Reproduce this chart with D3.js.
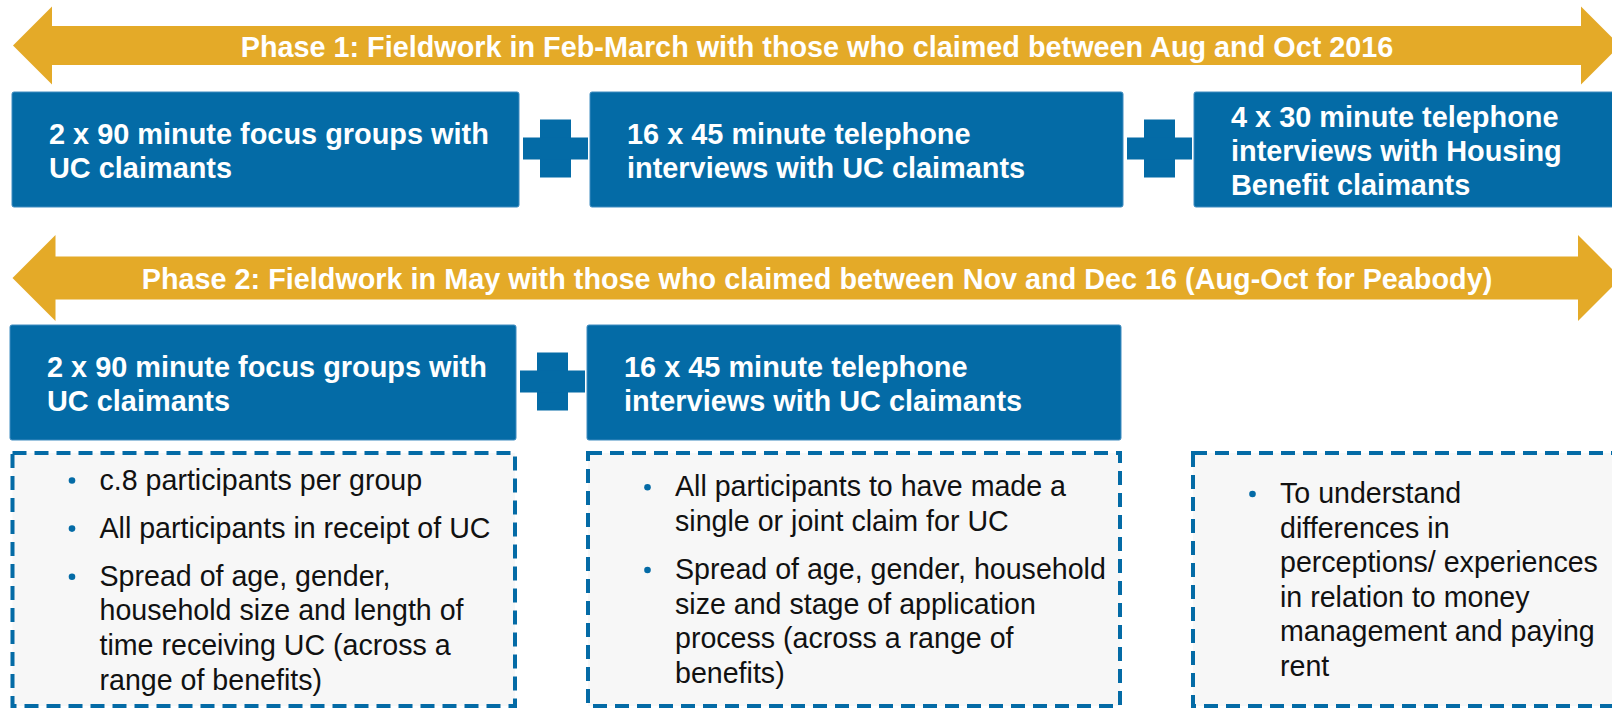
<!DOCTYPE html>
<html>
<head>
<meta charset="utf-8">
<script src="https://cdn.jsdelivr.net/npm/d3@7"></script>
<style>
  body { margin: 0; background: #fff; }
  svg { display: block; }
  text { font-family: "Liberation Sans", Arial, sans-serif; }
</style>
</head>
<body>
<svg id="chart"></svg>
<script>
// text content of the diagram
var phaseTitles = [
  'Phase 1: Fieldwork in Feb-March with those who claimed between Aug and Oct 2016',
  'Phase 2: Fieldwork in May with those who claimed between Nov and Dec 16 (Aug-Oct for Peabody)'
];

var phase1Methods = [
  ['2 x 90 minute focus groups with', 'UC claimants'],
  ['16 x 45 minute telephone', 'interviews with UC claimants'],
  ['4 x 30 minute telephone', 'interviews with Housing', 'Benefit claimants']
];

var phase2Methods = [
  ['2 x 90 minute focus groups with', 'UC claimants'],
  ['16 x 45 minute telephone', 'interviews with UC claimants']
];

// each note box is a list of bullet paragraphs, each paragraph a list of lines
var phase2Notes = [
  [
    ['c.8 participants per group'],
    ['All participants in receipt of UC'],
    ['Spread of age, gender,', 'household size and length of', 'time receiving UC (across a', 'range of benefits)']
  ],
  [
    ['All participants to have made a', 'single or joint claim for UC'],
    ['Spread of age, gender, household', 'size and stage of application', 'process (across a range of', 'benefits)']
  ],
  [
    ['To understand', 'differences in', 'perceptions/ experiences', 'in relation to money', 'management and paying', 'rent']
  ]
];

// layout
var width = 1612;
var height = 709;
var blue = '#046ba6';
var gold = '#e4aa28';

var arrows = [
  {cy: 45.5, head: 39, shaft: 19.5, x0: 13, x1: 1620},
  {cy: 278, head: 43, shaft: 21.5, x0: 12.5, x1: 1621}
];
var titleX = 817;

var rows = [
  {y: 92, h: 115, cols: [[12, 519], [590, 1123], [1194, 1616]], methods: phase1Methods},
  {y: 325, h: 115, cols: [[10, 516], [587, 1121]], methods: phase2Methods}
];

var notesBox = {y0: 453, y1: 706, cols: [[12.5, 515], [588, 1120], [1193, 1640]]};
var noteLine = 34.6;
var noteGap = 13.5;
var noteMid = 589.5;

var svg = d3.select('#chart')
  .attr('width', width)
  .attr('height', height);

// double headed arrows with phase titles
var line = d3.line();
arrows.forEach(function(a, i) {
  var d = a.head;
  var pts = [
    [a.x0, a.cy],
    [a.x0 + d, a.cy - a.head],
    [a.x0 + d, a.cy - a.shaft],
    [a.x1 - d, a.cy - a.shaft],
    [a.x1 - d, a.cy - a.head],
    [a.x1, a.cy],
    [a.x1 - d, a.cy + a.head],
    [a.x1 - d, a.cy + a.shaft],
    [a.x0 + d, a.cy + a.shaft],
    [a.x0 + d, a.cy + a.head]
  ];
  svg.append('path')
    .attr('d', line(pts) + 'Z')
    .attr('fill', gold);

  svg.append('text')
    .attr('x', titleX)
    .attr('y', a.cy + 11)
    .attr('text-anchor', 'middle')
    .attr('font-size', 28.8)
    .attr('font-weight', 'bold')
    .attr('fill', '#fff')
    .text(phaseTitles[i]);
});

// method boxes, joined by plus signs
rows.forEach(function(row) {
  var cy = row.y + row.h / 2;
  var g = svg.append('g');

  g.selectAll('rect.box')
    .data(row.cols).enter().append('rect')
    .attr('class', 'box')
    .attr('x', function(c) { return c[0]; })
    .attr('y', row.y)
    .attr('width', function(c) { return c[1] - c[0]; })
    .attr('height', row.h)
    .attr('rx', 2)
    .attr('fill', blue)
    .attr('stroke', '#3f8cc0')
    .attr('stroke-width', 1);

  // plus between neighbouring boxes
  var gaps = d3.pairs(row.cols).map(function(p) { return (p[0][1] + p[1][0]) / 2 + 1; });
  gaps.forEach(function(x) {
    g.append('rect').attr('x', x - 15.5).attr('y', cy - 30).attr('width', 31).attr('height', 58).attr('fill', blue);
    g.append('rect').attr('x', x - 32.5).attr('y', cy - 12).attr('width', 65).attr('height', 22).attr('fill', blue);
  });

  row.cols.forEach(function(c, i) {
    var lines = row.methods[i];
    var n = lines.length;
    g.append('text')
      .attr('font-size', 28.9)
      .attr('font-weight', 'bold')
      .attr('fill', '#fff')
      .selectAll('tspan')
      .data(lines).enter().append('tspan')
      .attr('x', c[0] + 37)
      .attr('y', function(d, j) { return cy + 11 + (j - (n - 1) / 2) * 34; })
      .text(function(d) { return d; });
  });
});

// dashed note boxes with bullet lists
notesBox.cols.forEach(function(c, i) {
  svg.append('rect')
    .attr('x', c[0])
    .attr('y', notesBox.y0)
    .attr('width', c[1] - c[0])
    .attr('height', notesBox.y1 - notesBox.y0)
    .attr('fill', '#f7f7f7')
    .attr('stroke', blue)
    .attr('stroke-width', 4)
    .attr('stroke-dasharray', '14,8');

  var y = 0;
  var bullets = [];
  var lines = [];
  phase2Notes[i].forEach(function(para) {
    bullets.push(y);
    para.forEach(function(l) {
      lines.push({text: l, y: y});
      y += noteLine;
    });
    y += noteGap;
  });
  var span = lines[lines.length - 1].y;
  var top = noteMid - span / 2;

  svg.selectAll(null)
    .data(bullets).enter().append('circle')
    .attr('cx', c[0] + 59.5)
    .attr('cy', function(d) { return top + d - 9; })
    .attr('r', 3.3)
    .attr('fill', blue);

  svg.append('text')
    .attr('font-size', 28.6)
    .attr('fill', '#111')
    .selectAll('tspan')
    .data(lines).enter().append('tspan')
    .attr('x', c[0] + 87)
    .attr('y', function(d) { return top + d.y; })
    .text(function(d) { return d.text; });
});
</script>
</body>
</html>
